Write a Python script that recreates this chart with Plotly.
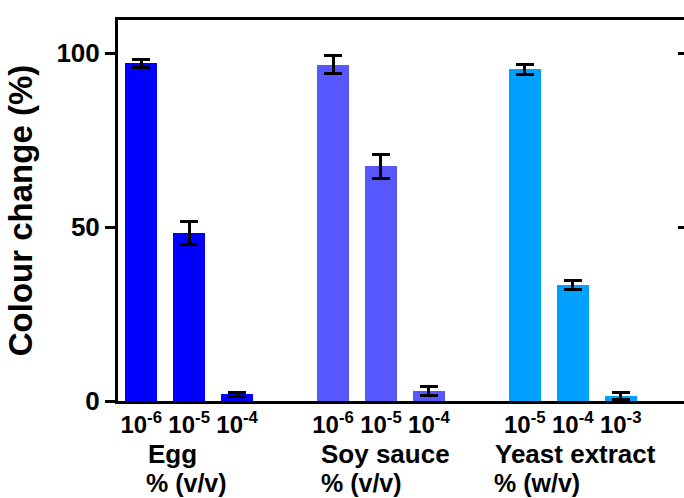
import plotly.graph_objects as go

# Colour change at each concentration, grouped by food matrix
groups = ["Egg", "Soy sauce", "Yeast extract"]
units = ["% (v/v)", "% (v/v)", "% (w/v)"]
concentrations = [
    ["10<sup>-6</sup>", "10<sup>-5</sup>", "10<sup>-4</sup>"],
    ["10<sup>-6</sup>", "10<sup>-5</sup>", "10<sup>-4</sup>"],
    ["10<sup>-5</sup>", "10<sup>-4</sup>", "10<sup>-3</sup>"],
]
egg_change = [97.0, 48.2, 1.9]
egg_err = [1.2, 3.3, 0.5]
soy_change = [96.7, 67.4, 3.0]
soy_err = [2.6, 3.5, 1.3]
yeast_change = [95.3, 33.3, 1.5]
yeast_err = [1.4, 1.3, 1.0]

values = [egg_change, soy_change, yeast_change]
errors = [egg_err, soy_err, yeast_err]
colors = ["#0000FF", "#5757FF", "#00A0FF"]

FONT = "Liberation Sans, Arial, sans-serif"

fig = go.Figure()
tickvals, ticktext = [], []
for g, name in enumerate(groups):
    # one empty slot between neighbouring groups
    xs = [g * (len(values[g]) + 1) + i for i in range(len(values[g]))]
    tickvals += xs
    ticktext += concentrations[g]
    fig.add_trace(go.Bar(
        x=xs, y=values[g], name=name, width=0.668,
        marker=dict(color=colors[g], line=dict(width=0)),
        error_y=dict(type="data", array=errors[g], color="black",
                     thickness=3, width=9),
        showlegend=False,
    ))

# carrier for the tick-only axis on the right edge
fig.add_trace(go.Scatter(x=[None], y=[None], yaxis="y2",
                         showlegend=False, hoverinfo="skip"))

# group names and units under the tick labels
name_x = [0.09, 3.70, 7.33]
unit_x = [0.05, 3.70, 7.31]
for g in range(len(groups)):
    fig.add_annotation(x=name_x[g], y=-0.138, xref="x", yref="paper",
                       text=groups[g], showarrow=False, xanchor="left",
                       yanchor="middle",
                       font=dict(family=FONT, size=26, color="black",
                                 weight="bold"))
    fig.add_annotation(x=unit_x[g], y=-0.215, xref="x", yref="paper",
                       text=units[g], showarrow=False, xanchor="left",
                       yanchor="middle",
                       font=dict(family=FONT, size=25, color="black",
                                 weight="bold"))

fig.update_layout(
    width=684, height=498,
    margin=dict(l=118, r=0, t=20, b=97),
    paper_bgcolor="white", plot_bgcolor="white",
    bargap=0,
    xaxis=dict(
        range=[-0.484, 11.32], tickmode="array",
        tickvals=tickvals, ticktext=ticktext,
        showline=True, linecolor="black", linewidth=3, mirror=True,
        ticks="", showgrid=False, zeroline=False,
        tickfont=dict(family=FONT, size=24, color="black", weight="bold"),
    ),
    yaxis=dict(
        range=[0, 109.5], tickvals=[0, 50, 100],
        showline=True, linecolor="black", linewidth=3,
        ticks="outside", ticklen=10, tickwidth=3, tickcolor="black",
        showgrid=False, zeroline=False,
        tickfont=dict(family=FONT, size=26, color="black", weight="bold"),
        title=dict(text="Colour change (%)", standoff=14,
                   font=dict(family=FONT, size=33, color="black",
                             weight="bold")),
    ),
    yaxis2=dict(
        overlaying="y", side="right", anchor="x",
        range=[0, 109.5], tickvals=[0, 50, 100],
        ticks="inside", ticklen=6, tickwidth=3, tickcolor="black",
        showticklabels=False, showline=False, showgrid=False,
        zeroline=False,
    ),
)

fig.write_html("out.html")
